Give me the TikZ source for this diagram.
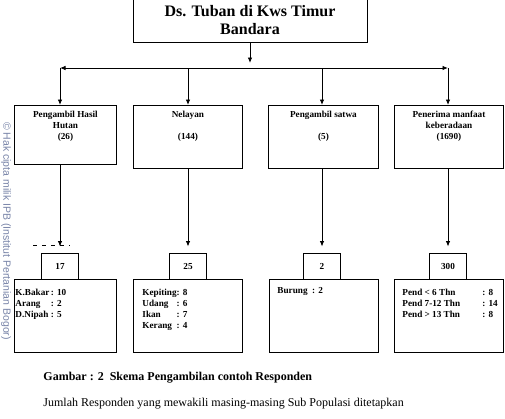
\documentclass[tikz,border=0pt]{standalone}
\usepackage{fontspec}
\setmainfont{Liberation Serif}
\newfontfamily\wmfont{Liberation Sans}
\usetikzlibrary{arrows.meta, positioning}
\definecolor{wmblue}{RGB}{120,132,168}

\begin{document}
\begin{tikzpicture}[x=1pt, y=-1pt, line width=0.9pt,
  font=\bfseries\fontsize{9.2}{11}\selectfont,
  a/.style={-{Latex[length=5.5pt,width=4.5pt]}},
  grp/.style={draw, minimum width=#1, minimum height=63pt, inner sep=0pt, anchor=north west},
  sub/.style={draw, minimum width=37pt, minimum height=26pt, inner sep=0pt},
  det/.style={draw, minimum width=#1, minimum height=73pt, inner sep=0pt, anchor=north west},
  hd/.style={anchor=north, align=center, inner sep=0pt},
  lst/.style={anchor=north west, inner sep=0pt}]
  \useasboundingbox (0,0) rectangle (505,418);

  % top node
  \node (top) [draw, minimum width=234pt, minimum height=44pt, align=center,
    font=\bfseries\fontsize{16}{18}\selectfont] at (250,20) {Ds. Tuban di Kws Timur\\Bandara};

  \coordinate (hj) at (250,63);
  \coordinate (hm) at (250,68);
  \coordinate (h1) at (60,68);
  \coordinate (h2) at (188,68);
  \coordinate (h3) at (322,68);
  \coordinate (h4) at (448,68);

  % sub populasi
  \node (k1) [grp=102pt, minimum height=59pt] at (14,105) {};
  \node (k2) [grp=109pt] at (133,105) {};
  \node (k3) [grp=110pt] at (268,105) {};
  \node (k4) [grp=109pt] at (394,105) {};
  \node (tk1) [hd] at ([yshift=-6pt]k1.north) {Pengambil Hasil\\Hutan\\(26)};
  \node (tk2) [hd] at ([yshift=-6pt]k2.north) {Nelayan\\[11pt](144)};
  \node (tk3) [hd] at ([yshift=-6pt]k3.north) {Pengambil satwa\\[11pt](5)};
  \node (tk4) [hd] at ([yshift=-6pt]k4.north) {Penerima manfaat\\keberadaan\\(1690)};

  % jumlah responden
  \node (n1) [sub] at (60,266) {17};
  \node (n2) [sub] at (188,266) {25};
  \node (n3) [sub] at (322,266) {2};
  \node (n4) [sub] at (448,266) {300};

  \node (d1) [det=102pt] at (14,279) {};
  \node (d2) [det=109pt] at (133,279) {};
  \node (d3) [det=109pt] at (269,279) {};
  \node (d4) [det=109pt] at (394,279) {};
  \node (td1) [lst] at ([shift={(1pt,-8pt)}]d1.north west)
    {\begin{tabular}{@{}l@{\,}l@{}}K.Bakar&: 10\\Arang&: 2\\D.Nipah&: 5\end{tabular}};
  \node (td2) [lst] at ([shift={(9pt,-8pt)}]d2.north west)
    {\begin{tabular}{@{}l@{}l@{}}Kepiting&: 8\\Udang&: 6\\Ikan&: 7\\Kerang&: 4\end{tabular}};
  \node (td3) [lst] at ([shift={(8pt,-8pt)}]d3.north west) {Burung\ \ : 2};
  \node (td4) [lst] at ([shift={(8pt,-8pt)}]d4.north west)
    {\begin{tabular}{@{}p{80pt}@{}l@{}}Pend < 6 Thn&: 8\\Pend 7-12 Thn&: 14\\Pend > 13 Thn&: 8\end{tabular}};

  % panah
  \draw[a] (top) -- (hj);
  \draw[a] (hm) -- (h1);
  \draw[a] (hm) -- (h4);
  \draw[a] (h1) -- (h1 |- k1.north);
  \draw[a] (h2) -- (h2 |- k2.north);
  \draw[a] (h3) -- (h3 |- k3.north);
  \draw[a] (h4) -- (h4 |- k4.north);
  \draw[a, shorten >=6pt] (n1 |- k1.south) -- (n1.north);
  \draw[a, shorten >=6pt] (n2 |- k2.south) -- (n2.north);
  \draw[a, shorten >=6pt] (n3 |- k3.south) -- (n3.north);
  \draw[a, shorten >=6pt] (n4 |- k4.south) -- (n4.north);
  \draw[dashed, dash pattern=on 4pt off 5pt] (33,245) -- (70,245);

  % keterangan
  \node (cap) [anchor=west, inner sep=0pt, font=\bfseries\fontsize{12}{14}\selectfont]
    at (43,378) {Gambar : 2\ \ Skema Pengambilan contoh Responden};
  \node (note) [anchor=west, inner sep=0pt, font=\fontsize{12}{14}\selectfont]
    at (43,404) {Jumlah Responden yang mewakili masing-masing Sub Populasi ditetapkan};

  \node (wm) [rotate=-90, text=wmblue, font=\wmfont\fontsize{10.5}{12}\selectfont]
    at (6,231) {© Hak cipta milik IPB (Institut Pertanian Bogor)};
\end{tikzpicture}
\end{document}
